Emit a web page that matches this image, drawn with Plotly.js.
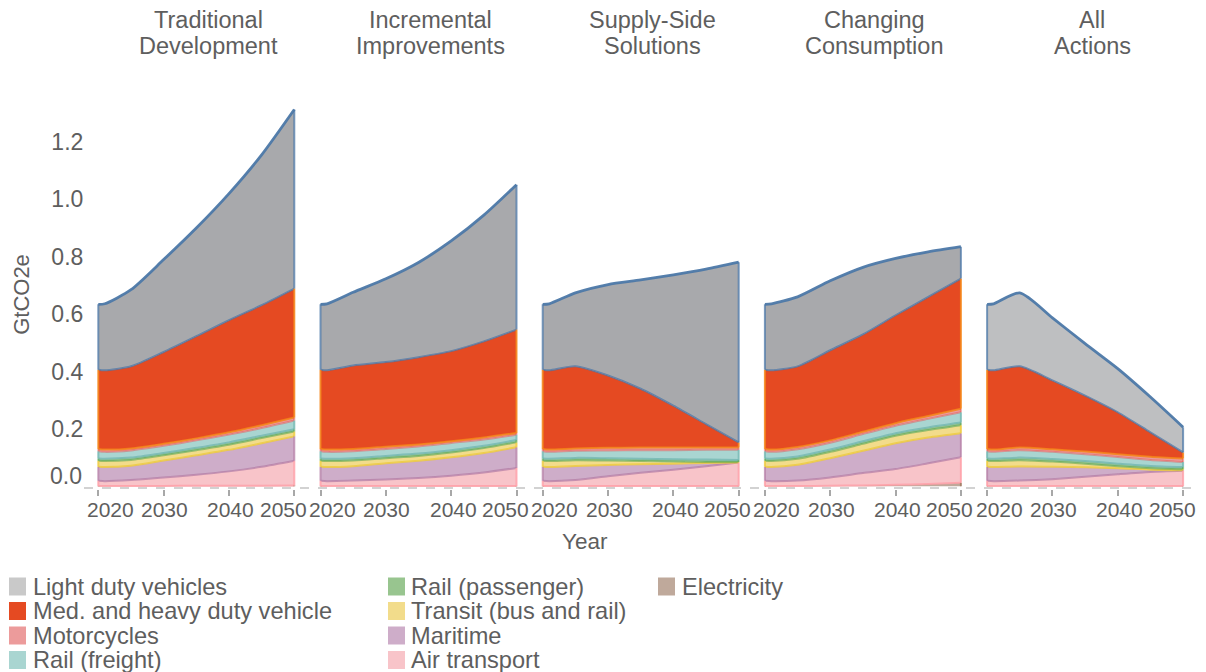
<!DOCTYPE html>
<html>
<head>
<meta charset="utf-8">
<script src="https://cdn.plot.ly/plotly-3.0.1.min.js"></script>
<style>html,body{margin:0;padding:0;background:#fff;}#chart{width:1206px;height:672px;}</style>
</head>
<body>
<div id="chart"></div>
<script>
// ---------------- DATA ----------------
const years = [2020, 2021, 2025, 2030, 2035, 2040, 2045, 2050];
const scenarioLine1 = ['Traditional', 'Incremental', 'Supply-Side', 'Changing', 'All'];
const scenarioLine2 = ['Development', 'Improvements', 'Solutions', 'Consumption', 'Actions'];
const tickYears = [2020, 2030, 2040, 2050];
const yTickVals = [0.2, 0.4, 0.6, 0.8, 1.0, 1.2];
const yTickText = ['0.2', '0.4', '0.6', '0.8', '1.0', '1.2'];
const categories = ['Light duty vehicles', 'Med. and heavy duty vehicle', 'Motorcycles', 'Rail (freight)',
  'Rail (passenger)', 'Transit (bus and rail)', 'Maritime', 'Air transport', 'Electricity'];

// GtCO2e per category; one row per scenario (same order as scenario titles)
const ldv = [
  [0.228, 0.232, 0.267, 0.322, 0.377, 0.441, 0.524, 0.624],
  [0.228, 0.232, 0.255, 0.290, 0.330, 0.384, 0.440, 0.505],
  [0.228, 0.232, 0.256, 0.317, 0.379, 0.456, 0.540, 0.628],
  [0.228, 0.232, 0.242, 0.242, 0.234, 0.198, 0.157, 0.111],
  [0.228, 0.232, 0.256, 0.218, 0.181, 0.152, 0.123, 0.088]];
const medHeavy = [
  [0.276, 0.276, 0.286, 0.320, 0.356, 0.391, 0.418, 0.449],
  [0.276, 0.276, 0.291, 0.295, 0.304, 0.314, 0.335, 0.360],
  [0.276, 0.276, 0.286, 0.252, 0.205, 0.146, 0.082, 0.018],
  [0.276, 0.276, 0.281, 0.314, 0.339, 0.376, 0.415, 0.454],
  [0.276, 0.276, 0.283, 0.240, 0.195, 0.146, 0.085, 0.021]];
const motorcycles = [
  [0.008, 0.008, 0.007, 0.007, 0.007, 0.008, 0.010, 0.011],
  [0.008, 0.008, 0.008, 0.008, 0.007, 0.006, 0.007, 0.006],
  [0.008, 0.008, 0.008, 0.009, 0.009, 0.009, 0.008, 0.008],
  [0.008, 0.008, 0.008, 0.008, 0.008, 0.009, 0.010, 0.012],
  [0.008, 0.008, 0.009, 0.009, 0.009, 0.010, 0.011, 0.012]];
const railFreight = [
  [0.025, 0.024, 0.025, 0.025, 0.026, 0.027, 0.027, 0.030],
  [0.025, 0.024, 0.024, 0.024, 0.025, 0.025, 0.022, 0.019],
  [0.025, 0.024, 0.025, 0.027, 0.030, 0.032, 0.034, 0.035],
  [0.025, 0.024, 0.025, 0.024, 0.025, 0.026, 0.030, 0.036],
  [0.025, 0.024, 0.026, 0.025, 0.024, 0.023, 0.021, 0.018]];
const railPassenger = [
  [0.008, 0.008, 0.008, 0.008, 0.008, 0.008, 0.008, 0.008],
  [0.008, 0.008, 0.008, 0.008, 0.008, 0.008, 0.008, 0.008],
  [0.008, 0.008, 0.008, 0.008, 0.008, 0.008, 0.008, 0.007],
  [0.008, 0.008, 0.008, 0.008, 0.009, 0.009, 0.009, 0.009],
  [0.008, 0.008, 0.009, 0.009, 0.009, 0.009, 0.008, 0.008]];
const transit = [
  [0.021, 0.021, 0.020, 0.018, 0.018, 0.018, 0.018, 0.017],
  [0.021, 0.021, 0.020, 0.018, 0.017, 0.017, 0.017, 0.017],
  [0.021, 0.021, 0.020, 0.016, 0.011, 0.007, 0.004, 0.002],
  [0.021, 0.021, 0.021, 0.022, 0.024, 0.026, 0.026, 0.028],
  [0.021, 0.021, 0.022, 0.018, 0.013, 0.007, 0.005, 0.003]];
const maritime = [
  [0.049, 0.049, 0.050, 0.059, 0.068, 0.075, 0.082, 0.085],
  [0.049, 0.049, 0.050, 0.056, 0.060, 0.064, 0.068, 0.072],
  [0.049, 0.049, 0.049, 0.039, 0.030, 0.021, 0.011, 0.000],
  [0.049, 0.049, 0.055, 0.067, 0.078, 0.090, 0.090, 0.084],
  [0.049, 0.049, 0.049, 0.043, 0.033, 0.021, 0.008, 0.002]];
const airTransport = [
  [0.018, 0.017, 0.021, 0.030, 0.038, 0.050, 0.066, 0.086],
  [0.018, 0.017, 0.019, 0.023, 0.028, 0.036, 0.047, 0.063],
  [0.018, 0.017, 0.021, 0.034, 0.046, 0.057, 0.069, 0.082],
  [0.018, 0.017, 0.019, 0.029, 0.043, 0.055, 0.072, 0.089],
  [0.018, 0.017, 0.019, 0.024, 0.032, 0.041, 0.049, 0.053]];
const electricity = [
  [0.001, 0.001, 0.001, 0.001, 0.002, 0.002, 0.002, 0.003],
  [0.001, 0.001, 0.001, 0.001, 0.001, 0.001, 0.001, 0.001],
  [0.001, 0.001, 0.001, 0.001, 0.001, 0.001, 0.001, 0.001],
  [0.001, 0.001, 0.001, 0.002, 0.003, 0.005, 0.008, 0.012],
  [0.001, 0.001, 0.001, 0.001, 0.001, 0.001, 0.001, 0.001]];

// ---------------- STYLE ----------------
const series = [ldv, medHeavy, motorcycles, railFreight, railPassenger, transit, maritime, airTransport, electricity];
const fillColors = ['#a8a9ac', '#e54a22', '#ec9b9b', '#a9d5d1', '#98c58f', '#f2dc8b', '#ceadc9', '#f8c4c9', '#bfa99b'];
const ldvFillLast = '#bebfc1';
const legendColors = ['#c9c9c9', '#e54a22', '#ec9b9b', '#a9d5d1', '#98c58f', '#f2dc8b', '#ceadc9', '#f8c4c9', '#bfa99b'];
const strokeColors = ['rgba(76,120,168,0.75)', 'rgba(245,133,24,0.85)', 'rgba(228,87,86,0.5)', 'rgba(114,183,178,0.8)',
  'rgba(84,162,75,0.55)', 'rgba(238,202,59,0.8)', 'rgba(178,121,162,0.7)', 'rgba(255,157,166,0.8)', 'rgba(157,117,93,0.8)'];
const topStroke = 'rgba(76,120,168,0.95)';

const W = 1206, H = 672;
const M = {l: 96, r: 20, t: 100, b: 183};
const PW = W - M.l - M.r, PH = H - M.t - M.b;
const px2x = px => (px - M.l) / PW;
const py2y = py => (H - M.b - py) / PH;
const FONT = 'Liberation Sans, Arial, Helvetica, sans-serif';
const TXT = '#5e5e5e';

const facetStart0 = 98.3, facetStep = 222.2, facetW = 196, padYears = 0.3;
const pxPerYear = facetW / 30;

const traces = [];
const layout = {
  width: W, height: H, margin: M,
  paper_bgcolor: '#ffffff', plot_bgcolor: 'rgba(0,0,0,0)',
  showlegend: false,
  font: {family: FONT, color: TXT},
  annotations: [], shapes: [],
  yaxis: {
    anchor: 'x', range: [-(489 - 486.3) / 287, (486.3 - 100) / 287],
    tickvals: yTickVals, ticktext: yTickText, ticks: '', showgrid: false, zeroline: false, showline: false,
    ticklabelstandoff: 12,
    tickfont: {size: 23, color: TXT, family: FONT},
    title: {text: 'GtCO2e', font: {size: 22, color: TXT, family: FONT}, standoff: 15}
  }
};

for (let s = 0; s < 5; s++) {
  const axName = s === 0 ? 'xaxis' : 'xaxis' + (s + 1);
  const xRef = s === 0 ? 'x' : 'x' + (s + 1);
  const start = facetStart0 + facetStep * s;
  const padPx = padYears * pxPerYear;
  layout[axName] = {
    anchor: 'y',
    domain: [px2x(start - padPx), Math.min(1, px2x(start + facetW + padPx))],
    range: [years[0] - padYears, years[years.length - 1] + padYears],
    tickvals: tickYears, ticks: 'outside', ticklen: 6, tickwidth: 2, tickcolor: '#a8a8a8',
    showticklabels: false, showgrid: false, zeroline: false, showline: false
  };
  // stacked areas, bottom (electricity) to top (light duty vehicles)
  let base = years.map(() => 0);
  const edges = [];
  for (let c = series.length - 1; c >= 0; c--) {
    const vals = series[c][s];
    const top = base.map((b, i) => b + vals[i]);
    let fc = fillColors[c];
    if (c === 0 && s === 4) fc = ldvFillLast;
    const lineCol = c === 0 ? topStroke : strokeColors[c - 1];
    traces.push({
      type: 'scatter', mode: 'lines', x: years, y: top, xaxis: xRef, yaxis: 'y',
      fill: c === series.length - 1 ? 'tozeroy' : 'tonexty', fillcolor: fc,
      line: {color: lineCol, width: c === 0 ? 2.8 : 2, shape: 'spline', smoothing: 0.7},
      name: categories[c], hoverinfo: 'name', showlegend: false
    });
    const n = years.length - 1;
    edges.push({
      type: 'scatter', mode: 'lines', xaxis: xRef, yaxis: 'y',
      x: [years[0], years[0], null, years[n], years[n]],
      y: [base[0], top[0], null, base[n], top[n]],
      line: {color: strokeColors[c], width: 2}, hoverinfo: 'skip', showlegend: false
    });
    base = top;
  }
  edges.forEach(e => traces.push(e));
  // tick labels (flush at facet edges)
  const shifts = [12, 1, 2, -11];
  tickYears.forEach((yr, i) => {
    layout.annotations.push({
      xref: xRef, yref: 'paper', x: yr, y: py2y(509), xshift: shifts[i],
      text: String(yr), showarrow: false, xanchor: 'center', yanchor: 'middle',
      font: {size: 21, color: TXT, family: FONT}
    });
  });
  // facet titles (two lines)
  const cx = [208, 430, 652, 874, 1092][s];
  layout.annotations.push({
    xref: 'paper', yref: 'paper', x: px2x(cx), y: py2y(19.5), text: scenarioLine1[s], showarrow: false,
    xanchor: 'center', yanchor: 'middle', font: {size: 23.5, color: TXT, family: FONT}
  });
  layout.annotations.push({
    xref: 'paper', yref: 'paper', x: px2x(cx), y: py2y(45.5), text: scenarioLine2[s], showarrow: false,
    xanchor: 'center', yanchor: 'middle', font: {size: 23.5, color: TXT, family: FONT}
  });
}

// y tick "0.0" (flushed upward)
layout.annotations.push({
  xref: 'paper', yref: 'paper', x: px2x(84), y: py2y(476), text: '0.0', showarrow: false,
  xanchor: 'right', yanchor: 'middle', font: {size: 23, color: TXT, family: FONT}
});
// x axis title
layout.annotations.push({
  xref: 'paper', yref: 'paper', x: px2x(585), y: py2y(541), text: 'Year', showarrow: false,
  xanchor: 'center', yanchor: 'middle', font: {size: 22.5, color: TXT, family: FONT}
});
// dashed zero baseline
layout.shapes.push({
  type: 'line', xref: 'paper', yref: 'paper', x0: px2x(84), x1: px2x(1198), y0: py2y(488), y1: py2y(488),
  line: {color: '#c4c4c4', width: 1.5, dash: 'dash'}, layer: 'below'
});

// legend (three columns)
const legendCols = [[0, 1, 2, 3], [4, 5, 6, 7], [8]];
const colSwatchX = [9, 388, 658];
const colTextX = [31, 409, 680];
const rowY = [586.5, 611, 635.5, 660];
legendCols.forEach((col, ci) => {
  col.forEach((c, ri) => {
    layout.shapes.push({
      type: 'rect', xref: 'paper', yref: 'paper',
      x0: px2x(colSwatchX[ci]), x1: px2x(colSwatchX[ci] + 17),
      y0: py2y(rowY[ri] - 9), y1: py2y(rowY[ri] + 9),
      fillcolor: legendColors[c], line: {width: 0}
    });
    layout.annotations.push({
      xref: 'paper', yref: 'paper', x: px2x(colTextX[ci]), y: py2y(rowY[ri]),
      text: categories[c], showarrow: false, xanchor: 'left', yanchor: 'middle',
      font: {size: 23.6, color: TXT, family: FONT}
    });
  });
});

Plotly.newPlot('chart', traces, layout, {displayModeBar: false, staticPlot: true});
</script>
</body>
</html>
